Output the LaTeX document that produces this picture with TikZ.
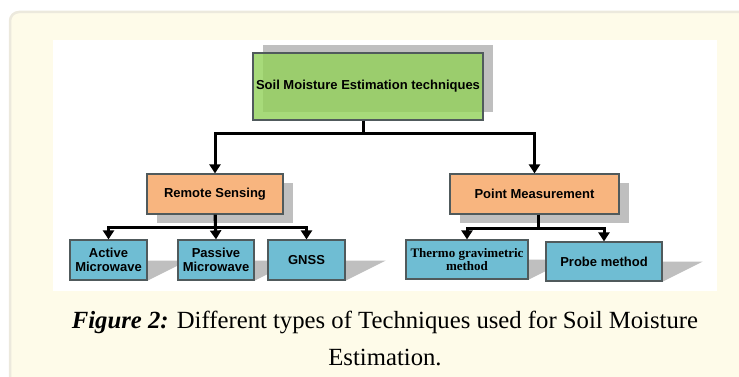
\documentclass[tikz,border=0pt]{standalone}
\usepackage{fontspec}
\setmainfont{Liberation Serif}
\setsansfont{Liberation Sans}
\usetikzlibrary{arrows.meta}
\usetikzlibrary{shadows}

\definecolor{panelfill}{HTML}{FEFBE9}
\definecolor{panelline}{HTML}{ECE9DD}
\definecolor{shadowgrey}{HTML}{BFBFBF}
\definecolor{topgreen}{HTML}{92D159}
\definecolor{midorange}{HTML}{F8B57F}
\definecolor{leafblue}{HTML}{6FBDD3}
\definecolor{boxline}{HTML}{505A5C}

\pgfdeclarelayer{paper}
\pgfdeclarelayer{shade}
\pgfsetlayers{paper,shade,main}

\begin{document}
\begin{tikzpicture}[x=1pt,y=-1pt,
	boxtext/.style={font=\sffamily\bfseries\fontsize{13}{13.5}\selectfont,align=center,
		draw=boxline,line width=1.2pt,inner sep=0pt},
	link/.style={line width=3pt,-{Triangle[width=11pt,length=9pt]}}]
	\useasboundingbox (0,0) rectangle (739,377);
	\clip (0,0) rectangle (739,377);

	\begin{pgfonlayer}{paper}
		\draw[panelline,fill=panelfill,line width=2.5pt,rounded corners=9pt] (10,12) rectangle (770,400);
		\fill[white] (53,40) rectangle (717,291);
	\end{pgfonlayer}

	\begin{scope}[every node/.style={boxtext}]
		\node[fill=topgreen,fill opacity=0.8,text opacity=1,minimum width=230,minimum height=67,
			drop shadow={shadow xshift=10pt,shadow yshift=8pt,fill=shadowgrey,opacity=1}]
			(smet) at (368,86.5) {Soil Moisture Estimation techniques};

		\node[fill=midorange,minimum width=136,minimum height=40,
			drop shadow={shadow xshift=10pt,shadow yshift=-9pt,fill=shadowgrey,opacity=1}]
			(rs) at (215,194) {Remote Sensing};
		\node[fill=midorange,minimum width=169,minimum height=40,
			drop shadow={shadow xshift=10pt,shadow yshift=-9pt,fill=shadowgrey,opacity=1}]
			(pms) at (534.5,194) {Point Measurement};

		\node[fill=leafblue,minimum width=77,minimum height=40] (am) at (108.5,260) {Active\\Microwave};
		\node[fill=leafblue,minimum width=76,minimum height=40] (pmw) at (216,260) {Passive\\Microwave};
		\node[fill=leafblue,minimum width=77,minimum height=40] (gnss) at (306.5,260) {GNSS};
		\node[fill=leafblue,minimum width=122,minimum height=39,
			font=\rmfamily\bfseries\fontsize{13}{13.5}\selectfont] (thermo) at (467,259.5) {Thermo gravimetric\\method};
		\node[fill=leafblue,minimum width=116,minimum height=39] (probe) at (604,261.5) {Probe method};
	\end{scope}

	% slanted shadows of the lower boxes
	\begin{pgfonlayer}{shade}
		\foreach \leaf in {am,pmw,gnss,thermo,probe}
			\fill[shadowgrey] (\leaf.south west) -- (\leaf.south east)
				-- ([shift={(40pt,20pt)}]\leaf.south east) -- ([shift={(40pt,20pt)}]\leaf.south west) -- cycle;
	\end{pgfonlayer}

	\draw[link] ([xshift=-5pt]smet.south) -- ++(0,13) -| (rs.north);
	\draw[link] ([xshift=-5pt]smet.south) -- ++(0,13) -| (pms.north);
	\draw[link] (rs.south) -- ++(0,13) -| (am.north);
	\draw[link] (rs.south) -- (pmw.north);
	\draw[link] (rs.south) -- ++(0,13) -| (gnss.north);
	\draw[link] ([xshift=4pt]pms.south) -- ++(0,14) -| (thermo.north);
	\draw[link] ([xshift=4pt]pms.south) -- ++(0,14) -| (probe.north);

	% caption
	\node[anchor=base,font=\fontsize{24.7}{28}\selectfont] (cap1) at (385,328)
		{\textbf{\textit{Figure 2:}} Different types of Techniques used for Soil Moisture};
	\node[anchor=base,font=\fontsize{24.7}{28}\selectfont] (cap2) at (385,365) {Estimation.};
\end{tikzpicture}
\end{document}
